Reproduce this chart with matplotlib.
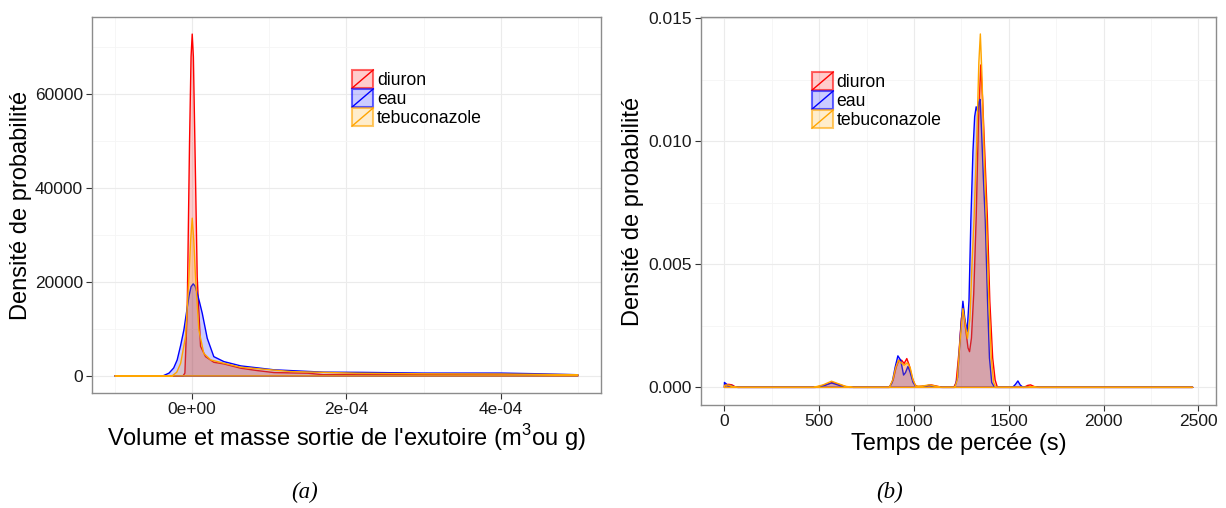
import matplotlib
matplotlib.use("Agg")
import matplotlib.pyplot as plt
import matplotlib.patches as mpatches
from matplotlib.lines import Line2D
from matplotlib.legend_handler import HandlerBase
from matplotlib.ticker import FixedLocator

plt.rcParams['font.family'] = ['Liberation Sans', 'DejaVu Sans']
plt.rcParams['mathtext.fontset'] = 'custom'
plt.rcParams['mathtext.rm'] = 'Liberation Sans'

series = ['diuron', 'eau', 'tebuconazole']
colors = {'diuron': '#ff0000', 'eau': '#0000ff', 'tebuconazole': '#ffa500'}

# (a) volume / masse sortie (m3 ou g) -> densite
vol_diuron_x = [-1e-4, -1.2e-5, -9.5e-6, -6.5e-6, -3.5e-6, -1.5e-6, 0, 1.5e-6, 3.5e-6, 6.5e-6,
                1.08e-5, 1.73e-5, 2.8e-5, 4.1e-5, 6.3e-5, 8.4e-5, 1.06e-4, 1.5e-4, 1.7e-4,
                2.14e-4, 2.6e-4, 3.0e-4, 3.5e-4, 4.0e-4, 4.5e-4, 5e-4]
vol_diuron_y = [0, 0, 600, 14000, 49500, 68000, 72800, 68000, 49500, 21000,
                6300, 4100, 2900, 2550, 1630, 1140, 710, 570, 250,
                355, 350, 300, 330, 280, 250, 150]
vol_eau_x = [-1e-4, -3.8e-5, -3.0e-5, -2.4e-5, -1.95e-5, -1.5e-5, -1.08e-5, -4.3e-6, -1.5e-6,
             1.3e-6, 3.8e-6, 6.5e-6, 9.5e-6, 1.3e-5, 1.95e-5, 2.8e-5, 4.1e-5, 6.3e-5, 1.06e-4,
             1.7e-4, 2.2e-4, 3.0e-4, 4.0e-4, 4.5e-4, 5e-4]
vol_eau_y = [0, 0, 600, 1700, 3400, 6500, 9800, 16900, 19000,
             19600, 19100, 17600, 15700, 13350, 8000, 4100, 3050, 2130, 1300,
             800, 750, 600, 600, 450, 250]
vol_tebu_x = [-1e-4, -2.6e-5, -2.0e-5, -1.5e-5, -8.6e-6, -4.3e-6, -2e-6, 0, 2e-6, 4.3e-6,
              8.6e-6, 1.5e-5, 2.4e-5, 4.1e-5, 6.3e-5, 1.28e-4, 2.14e-4, 3.0e-4, 4.0e-4, 5e-4]
vol_tebu_y = [0, 0, 800, 2700, 8400, 21000, 29000, 33600, 29000, 21000,
              9800, 4800, 3400, 2700, 1850, 920, 570, 450, 400, 250]

# (b) temps de percee (s) -> densite
t_diuron_x = [0, 10, 25, 40, 55, 70, 480, 530, 570, 600, 640, 680, 870, 890, 905, 920, 935,
              948, 962, 975, 990, 1005, 1020, 1060, 1090, 1120, 1150, 1210, 1222, 1238,
              1250, 1260, 1272, 1285, 1293, 1303, 1315, 1328, 1340, 1352, 1362, 1375,
              1387, 1400, 1415, 1428, 1440, 1580, 1600, 1615, 1635, 1660, 2470]
t_diuron_y = [0.00005, 0.00012, 0.00012, 0.0001, 0.00003, 0, 0, 0.0001, 0.0002, 0.00013,
              0.00003, 0, 0, 0.0003, 0.0008, 0.0011, 0.0011, 0.00097, 0.00117, 0.0009,
              0.0004, 0.0001, 0.00003, 0.00006, 0.0001, 0.00005, 0, 0, 0.0002, 0.0015,
              0.0028, 0.0032, 0.0024, 0.0016, 0.00145, 0.002, 0.0038, 0.0069, 0.0108,
              0.0131, 0.0117, 0.0092, 0.0069, 0.0035, 0.0012, 0.0003, 0, 0, 0.00008,
              0.0001, 0.00003, 0, 0]
t_eau_x = [0, 8, 20, 35, 50, 70, 480, 530, 565, 590, 620, 660, 870, 885, 900, 915, 930, 945,
           955, 968, 980, 995, 1010, 1040, 1080, 1110, 1140, 1215, 1230, 1245, 1258, 1268,
           1280, 1290, 1300, 1311, 1320, 1328, 1336, 1343, 1349, 1356, 1366, 1376, 1388,
           1398, 1410, 1425, 1520, 1535, 1548, 1560, 1575, 2470]
t_eau_y = [0.0002, 0.00015, 0.00005, 0.00008, 0.00003, 0, 0, 0.00008, 0.00018, 0.00012,
           0.00004, 0, 0, 0.0002, 0.0008, 0.00128, 0.0011, 0.0005, 0.0006, 0.00085, 0.0006,
           0.0002, 0.00003, 0.00003, 0.00008, 0.00004, 0, 0, 0.0004, 0.0022, 0.0035, 0.0028,
           0.00225, 0.0035, 0.0068, 0.0096, 0.011, 0.0114, 0.0112, 0.0116, 0.0117, 0.0105,
           0.0085, 0.0068, 0.0035, 0.0012, 0.0002, 0, 0, 0.00012, 0.00026, 0.0001, 0, 0]
t_tebu_x = [0, 12, 30, 50, 70, 470, 520, 565, 600, 640, 680, 870, 888, 903, 918, 932, 948,
            965, 980, 995, 1010, 1040, 1080, 1110, 1140, 1215, 1228, 1242, 1258, 1270, 1282,
            1295, 1306, 1317, 1330, 1342, 1350, 1358, 1370, 1382, 1395, 1408, 1420, 1432,
            1600, 1620, 1650, 2470]
t_tebu_y = [0.00008, 0.0001, 0.00008, 0.00002, 0, 0, 0.0001, 0.00025, 0.00015, 0.00004, 0,
            0, 0.0003, 0.0008, 0.0011, 0.001, 0.0009, 0.001, 0.0008, 0.0003, 0.00005,
            0.00005, 0.0001, 0.00006, 0, 0, 0.0003, 0.0018, 0.0032, 0.0026, 0.00199, 0.0028,
            0.005, 0.0069, 0.0098, 0.0132, 0.01436, 0.0128, 0.0095, 0.0069, 0.0035, 0.0012,
            0.0002, 0, 0, 0.00003, 0, 0]

vol_xticks = [0, 2e-4, 4e-4]
vol_xticklabels = ['0e+00', '2e-04', '4e-04']
vol_yticks = [0, 20000, 40000, 60000]
t_xticks = [0, 500, 1000, 1500, 2000, 2500]
t_yticks = [0, 0.005, 0.010, 0.015]
t_yticklabels = ['0.000', '0.005', '0.010', '0.015']

vol_data = {'diuron': (vol_diuron_x, vol_diuron_y), 'eau': (vol_eau_x, vol_eau_y),
            'tebuconazole': (vol_tebu_x, vol_tebu_y)}
t_data = {'diuron': (t_diuron_x, t_diuron_y), 'eau': (t_eau_x, t_eau_y),
          'tebuconazole': (t_tebu_x, t_tebu_y)}


class KeyHandler(HandlerBase):
    # carre rempli + diagonale, comme les cles de ggplot
    def create_artists(self, legend, orig_handle, xdescent, ydescent, width, height, fontsize, trans):
        c = orig_handle.get_edgecolor()
        rect = mpatches.Rectangle((-xdescent, -ydescent), width, height,
                                  facecolor=(c[0], c[1], c[2], 0.2), edgecolor=(c[0], c[1], c[2], 0.6),
                                  linewidth=1.5, transform=trans)
        diag = Line2D([-xdescent, -xdescent + width], [-ydescent, -ydescent + height],
                      color=c, linewidth=1, transform=trans)
        return [rect, diag]


def style_axes(ax):
    for sp in ax.spines.values():
        sp.set_color('#8c8c8c')
        sp.set_linewidth(1)
    ax.grid(which='major', color='#ebebeb', linewidth=0.8)
    ax.grid(which='minor', color='#f5f5f5', linewidth=0.6)
    ax.set_axisbelow(True)
    ax.tick_params(which='major', length=4, width=0.8, color='#333333', labelsize=12.5,
                   labelcolor='#1a1a1a', pad=2.5)
    ax.tick_params(which='minor', length=0)


def draw(ax, data):
    for s in series:
        x, y = data[s]
        c = colors[s]
        ax.fill_between(x, y, 0, facecolor=c, alpha=0.2, edgecolor='none')
        ax.fill_between(x, y, 0, facecolor='none', edgecolor=c, linewidth=1.0)
    proxies = [mpatches.Patch(edgecolor=colors[s], facecolor=colors[s]) for s in series]
    return proxies


def add_legend(ax, prox, anchor):
    ax.legend(prox, series, handler_map={mpatches.Patch: KeyHandler()}, loc='upper left',
              bbox_to_anchor=anchor, frameon=False, fontsize=12.7, borderpad=0,
              borderaxespad=0, handlelength=1.2, handleheight=1.2, handletextpad=0.2,
              labelspacing=0.0)


fig = plt.figure(figsize=(12.26, 5.08), dpi=100)
ax1 = fig.add_axes([0.0750, 0.2264, 0.4152, 0.7402])
ax2 = fig.add_axes([0.5718, 0.2028, 0.4201, 0.7638])

# (a)
prox = draw(ax1, vol_data)
ax1.set_xlim(-1.3e-4, 5.3e-4)
ax1.set_ylim(-3640, 76440)
ax1.set_xticks(vol_xticks)
ax1.set_xticklabels(vol_xticklabels)
ax1.xaxis.set_minor_locator(FixedLocator([-1e-4, 1e-4, 3e-4, 5e-4]))
ax1.set_yticks(vol_yticks)
ax1.set_yticklabels([str(v) for v in vol_yticks])
ax1.yaxis.set_minor_locator(FixedLocator([10000, 30000, 50000, 70000]))
style_axes(ax1)
ax1.set_xlabel("Volume et masse sortie de l'exutoire (m$^3$ou g)", fontsize=17, labelpad=4)
ax1.set_ylabel("Densité de probabilité", fontsize=17)
ax1.yaxis.set_label_coords(-0.117, 0.5)
add_legend(ax1, prox, (0.511, 0.859))

# (b)
prox = draw(ax2, t_data)
ax2.set_xlim(-123.5, 2593.5)
ax2.set_ylim(-0.000716, 0.015050)
ax2.set_xticks(t_xticks)
ax2.xaxis.set_minor_locator(FixedLocator([250, 750, 1250, 1750, 2250]))
ax2.set_yticks(t_yticks)
ax2.set_yticklabels(t_yticklabels)
ax2.yaxis.set_minor_locator(FixedLocator([0.0025, 0.0075, 0.0125]))
style_axes(ax2)
ax2.set_xlabel("Temps de percée (s)", fontsize=17, labelpad=3)
ax2.set_ylabel("Densité de probabilité", fontsize=17)
ax2.yaxis.set_label_coords(-0.11, 0.5)
add_legend(ax2, prox, (0.2155, 0.858))

fig.text(305 / 1226, 1 - 492 / 508, '(a)', fontsize=16.5, style='italic',
         family='Liberation Serif', ha='center', va='center')
fig.text(890 / 1226, 1 - 492 / 508, '(b)', fontsize=16.5, style='italic',
         family='Liberation Serif', ha='center', va='center')

fig.savefig('out.png', dpi=100)
